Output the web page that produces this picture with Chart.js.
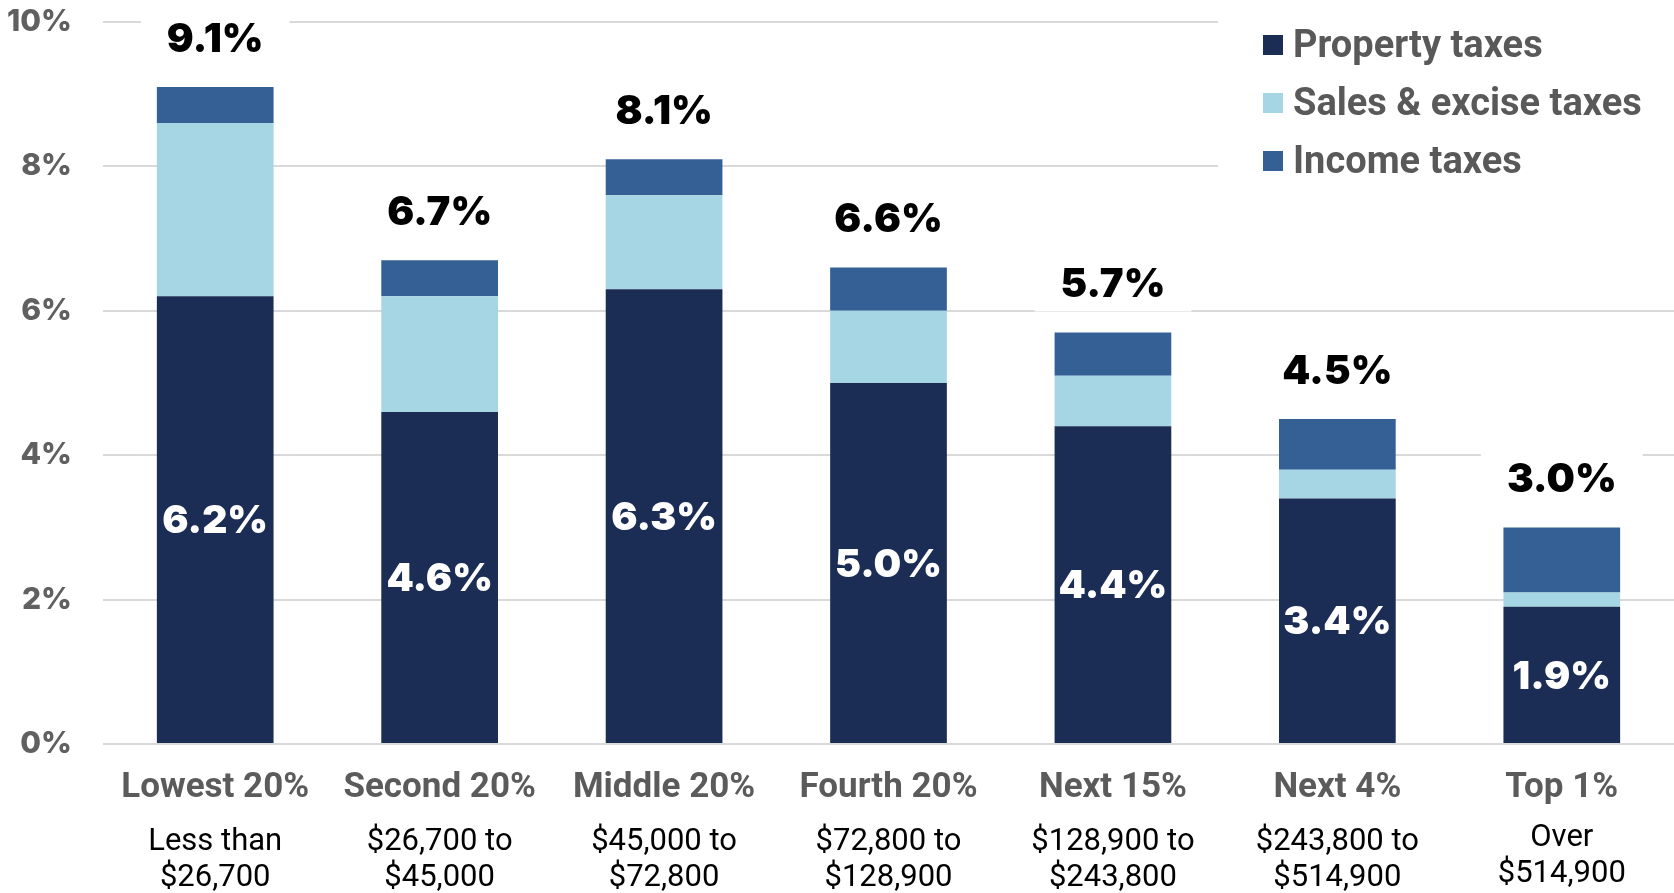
<!DOCTYPE html>
<html>
<head>
<meta charset="utf-8">
<script src="https://cdn.jsdelivr.net/npm/chart.js@4"></script>
<style>
    html, body { margin: 0; padding: 0; background: #fff; }
    #wrap { width: 1674px; height: 893px; position: relative; }
</style>
</head>
<body>
<div id="wrap"><canvas id="taxChart"></canvas></div>
<script>
// Datos del gráfico
const categories = ['Lowest 20%', 'Second 20%', 'Middle 20%', 'Fourth 20%', 'Next 15%', 'Next 4%', 'Top 1%'];
const incomeRanges = [
    ['Less than', '$26,700'],
    ['$26,700 to', '$45,000'],
    ['$45,000 to', '$72,800'],
    ['$72,800 to', '$128,900'],
    ['$128,900 to', '$243,800'],
    ['$243,800 to', '$514,900'],
    ['Over', '$514,900']
];
const propertyTaxes = [6.2, 4.6, 6.3, 5.0, 4.4, 3.4, 1.9];
const salesTaxes = [2.4, 1.6, 1.3, 1.0, 0.7, 0.4, 0.2];
const incomeTaxes = [0.5, 0.5, 0.5, 0.6, 0.6, 0.7, 0.9];
const yTicks = [0, 2, 4, 6, 8, 10];

const seriesNames = ['Property taxes', 'Sales & excise taxes', 'Income taxes'];
const seriesColors = ['#1b2d54', '#a6d6e3', '#356096'];

const numFont = '"Inter", "Noto Sans", sans-serif';
const textFont = 'Roboto, "Noto Sans", sans-serif';

// Etiquetas de totales y de impuesto a la propiedad
const barLabels = {
    id: 'barLabels',
    afterDatasetsDraw(chart) {
        const ctx = chart.ctx;
        const bottomMeta = chart.getDatasetMeta(0);
        const topMeta = chart.getDatasetMeta(2);
        ctx.save();
        ctx.textAlign = 'center';
        categories.forEach((c, i) => {
            const total = propertyTaxes[i] + salesTaxes[i] + incomeTaxes[i];
            const top = topMeta.data[i];
            const text = total.toFixed(1) + '%';
            const baseline = top.y - 35;
            ctx.font = '900 40px ' + numFont;
            ctx.textBaseline = 'alphabetic';
            const w = ctx.measureText(text).width;
            ctx.fillStyle = '#fff';
            ctx.fillRect(top.x - w / 2 - 26, baseline - 42, w + 52, 56);
            ctx.fillStyle = '#000';
            ctx.fillText(text, top.x, baseline);

            const bar = bottomMeta.data[i];
            ctx.font = '900 39px ' + numFont;
            ctx.fillStyle = '#fff';
            ctx.textBaseline = 'middle';
            ctx.fillText(propertyTaxes[i].toFixed(1) + '%', bar.x, (bar.y + bar.base) / 2 + 2);
        });
        ctx.restore();
    }
};

// Etiquetas del eje X en dos niveles
const xLabels = {
    id: 'xLabels',
    afterDraw(chart) {
        const ctx = chart.ctx;
        const xScale = chart.scales.x;
        ctx.save();
        ctx.textAlign = 'center';
        ctx.textBaseline = 'middle';
        categories.forEach((c, i) => {
            const x = xScale.getPixelForValue(i);
            ctx.font = 'bold 35px ' + textFont;
            ctx.fillStyle = '#5b5b5b';
            ctx.fillText(c, x, 788);
            ctx.font = '31px ' + textFont;
            ctx.fillStyle = '#000';
            const off = i === 6 ? -4 : 0;
            ctx.fillText(incomeRanges[i][0], x, 842 + off);
            ctx.fillText(incomeRanges[i][1], x, 878 + off);
        });
        ctx.restore();
    }
};

// Leyenda personalizada arriba a la derecha
const customLegend = {
    id: 'customLegend',
    afterDraw(chart) {
        const ctx = chart.ctx;
        ctx.save();
        ctx.fillStyle = '#fff';
        ctx.fillRect(1218, 0, 456, 200);
        ctx.textAlign = 'left';
        ctx.textBaseline = 'middle';
        ctx.font = 'bold 38px ' + textFont;
        seriesNames.forEach((name, i) => {
            const y = 45 + i * 58;
            ctx.fillStyle = seriesColors[i];
            ctx.fillRect(1263, y - 10, 20, 20);
            ctx.fillStyle = '#595959';
            ctx.fillText(name, 1293, y + 2);
        });
        ctx.restore();
    }
};

const ctx = document.getElementById('taxChart');
new Chart(ctx, {
    type: 'bar',
    data: {
        labels: categories,
        datasets: [
            { label: seriesNames[0], data: propertyTaxes, backgroundColor: seriesColors[0] },
            { label: seriesNames[1], data: salesTaxes, backgroundColor: seriesColors[1] },
            { label: seriesNames[2], data: incomeTaxes, backgroundColor: seriesColors[2] }
        ]
    },
    options: {
        responsive: true,
        maintainAspectRatio: false,
        animation: false,
        layout: { padding: { top: 22, bottom: 149, left: 0, right: 0 } },
        datasets: {
            bar: { barPercentage: 1, categoryPercentage: 0.52 }
        },
        plugins: {
            legend: { display: false },
            tooltip: { enabled: false }
        },
        scales: {
            x: {
                stacked: true,
                display: false
            },
            y: {
                stacked: true,
                min: 0,
                max: 10,
                afterBuildTicks(scale) {
                    scale.ticks = yTicks.map(v => ({ value: v }));
                },
                afterFit(scale) {
                    scale.width = 103;
                    scale.paddingTop = 0;
                    scale.paddingBottom = 0;
                },
                border: { display: false },
                grid: { color: '#d9d9d9', lineWidth: 2, drawTicks: false },
                ticks: {
                    padding: 31,
                    color: '#606060',
                    font: { family: numFont, size: 30, weight: '800' },
                    callback: v => v + '%'
                }
            }
        }
    },
    plugins: [barLabels, xLabels, customLegend]
});
</script>
</body>
</html>
